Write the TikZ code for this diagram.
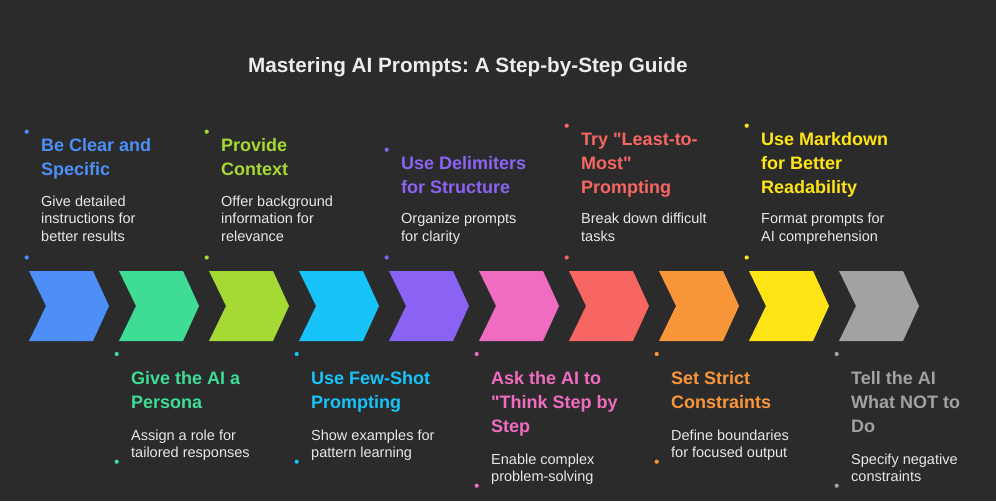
\documentclass[tikz,border=0pt]{standalone}
\usepackage{fontspec}
\setmainfont{Liberation Sans}[Ligatures=TeXOff]
\frenchspacing
\definecolor{bg}{HTML}{2B2B2B}
\definecolor{txt}{HTML}{E8E8E8}
\definecolor{head}{HTML}{EDEDED}
\definecolor{cA}{HTML}{4D8FF7}
\definecolor{cB}{HTML}{3FDC96}
\definecolor{cC}{HTML}{A5D934}
\definecolor{cD}{HTML}{17C3F8}
\definecolor{cE}{HTML}{8A63F4}
\definecolor{cF}{HTML}{F06CC1}
\definecolor{cG}{HTML}{F76662}
\definecolor{cH}{HTML}{FA963A}
\definecolor{cI}{HTML}{FFE416}
\definecolor{cJ}{HTML}{A2A2A2}
\begin{document}
\begin{tikzpicture}[x=1pt,y=-1pt,
  ttl/.style={anchor=base west, inner sep=0pt, text=#1, font=\fontsize{18}{24}\selectfont\bfseries},
  dsc/.style={anchor=base west, inner sep=0pt, text=txt, font=\fontsize{14.5}{17.5}\selectfont},
  dotmark/.style={fill=#1},
  chev/.style={fill=#1}]
\fill[bg] (0,0) rectangle (996,501);
\useasboundingbox (0,0) rectangle (996,501);
\node[anchor=base west, inner sep=0pt, text=head, font=\fontsize{20.7}{24}\selectfont\bfseries] (title) at (248,72) {Mastering AI Prompts: A Step-by-Step Guide};
% chevrons
\foreach \c [count=\i from 0] in {cA,cB,cC,cD,cE,cF,cG,cH,cI,cJ}{
  \fill[chev=\c] ({29+90*\i},271) -- ++(64,0) -- ++(16,35) -- ++(-16,35) -- ++(-64,0) -- ++(17,-35) -- cycle;
}
% item 1
\fill[dotmark=cA] (26.7,131.7) circle (2.1);
\node[ttl=cA] (t1) at (41,151) {\vtop{\hbox{Be Clear and}\hbox{Specific}}};
\node[dsc] (d1) at (41,206) {\vtop{\hbox{Give detailed}\hbox{instructions for}\hbox{better results}}};
\fill[dotmark=cA] (26.7,257.5) circle (2.1);
% item 3
\fill[dotmark=cC] (206.7,131.7) circle (2.1);
\node[ttl=cC] (t3) at (221,151) {\vtop{\hbox{Provide}\hbox{Context}}};
\node[dsc] (d3) at (221,206) {\vtop{\hbox{Offer background}\hbox{information for}\hbox{relevance}}};
\fill[dotmark=cC] (206.7,257.5) circle (2.1);
% item 5
\fill[dotmark=cE] (386.7,149.7) circle (2.1);
\node[ttl=cE] (t5) at (401,169) {\vtop{\hbox{Use Delimiters}\hbox{for Structure}}};
\node[dsc] (d5) at (401,223.5) {\vtop{\hbox{Organize prompts}\hbox{for clarity}}};
\fill[dotmark=cE] (386.7,257.5) circle (2.1);
% item 7
\fill[dotmark=cG] (566.7,125.7) circle (2.1);
\node[ttl=cG] (t7) at (581,145) {\vtop{\hbox{Try "Least-to-}\hbox{Most"}\hbox{Prompting}}};
\node[dsc] (d7) at (581,223.5) {\vtop{\hbox{Break down difficult}\hbox{tasks}}};
\fill[dotmark=cG] (566.7,257.5) circle (2.1);
% item 9
\fill[dotmark=cI] (746.7,125.7) circle (2.1);
\node[ttl=cI] (t9) at (761,145) {\vtop{\hbox{Use Markdown}\hbox{for Better}\hbox{Readability}}};
\node[dsc] (d9) at (761,223.5) {\vtop{\hbox{Format prompts for}\hbox{AI comprehension}}};
\fill[dotmark=cI] (746.7,257.5) circle (2.1);
% item 2
\fill[dotmark=cB] (116.7,354) circle (2.1);
\node[ttl=cB] (t2) at (131,384.3) {\vtop{\hbox{Give the AI a}\hbox{Persona}}};
\node[dsc] (d2) at (131,440) {\vtop{\hbox{Assign a role for}\hbox{tailored responses}}};
\fill[dotmark=cB] (116.7,461.7) circle (2.1);
% item 4
\fill[dotmark=cD] (296.7,354) circle (2.1);
\node[ttl=cD] (t4) at (311,384.3) {\vtop{\hbox{Use Few-Shot}\hbox{Prompting}}};
\node[dsc] (d4) at (311,440) {\vtop{\hbox{Show examples for}\hbox{pattern learning}}};
\fill[dotmark=cD] (296.7,461.7) circle (2.1);
% item 6
\fill[dotmark=cF] (476.7,354) circle (2.1);
\node[ttl=cF] (t6) at (491,384.3) {\vtop{\hbox{Ask the AI to}\hbox{"Think Step by}\hbox{Step}}};
\node[dsc] (d6) at (491,464) {\vtop{\hbox{Enable complex}\hbox{problem-solving}}};
\fill[dotmark=cF] (476.7,485.7) circle (2.1);
% item 8
\fill[dotmark=cH] (656.7,354) circle (2.1);
\node[ttl=cH] (t8) at (671,384.3) {\vtop{\hbox{Set Strict}\hbox{Constraints}}};
\node[dsc] (d8) at (671,440) {\vtop{\hbox{Define boundaries}\hbox{for focused output}}};
\fill[dotmark=cH] (656.7,461.7) circle (2.1);
% item 10
\fill[dotmark=cJ] (836.7,354) circle (2.1);
\node[ttl=cJ] (t10) at (851,384.3) {\vtop{\hbox{Tell the AI}\hbox{What NOT to}\hbox{Do}}};
\node[dsc] (d10) at (851,464) {\vtop{\hbox{Specify negative}\hbox{constraints}}};
\fill[dotmark=cJ] (836.7,485.7) circle (2.1);
\end{tikzpicture}
\end{document}
